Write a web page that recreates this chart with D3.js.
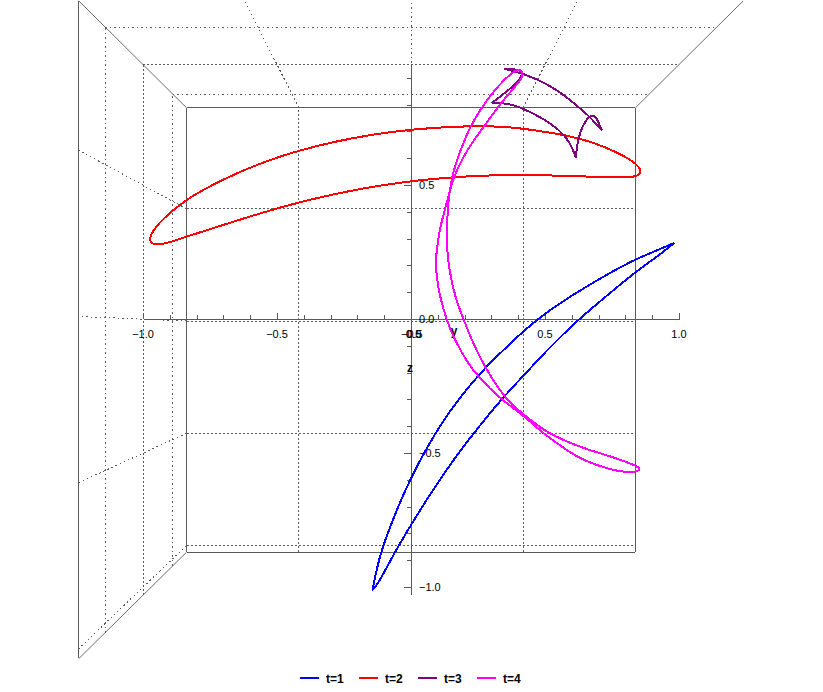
<!DOCTYPE html>
<html><head><meta charset="utf-8">
<script src="https://cdn.jsdelivr.net/npm/d3@7"></script>
<style>html,body{margin:0;background:#fff}svg{display:block}text{font-family:"Liberation Sans",Arial,sans-serif;fill:#000}</style>
</head><body><svg id="c" width="823" height="692"></svg>
<script>
// x, z values of each closed curve, as read on the axis plane
const t1X=[.982,.904,.836,.755,.680,.606,.544,.475,.419,.357,.276,.220,.146,.090,.040,-.004,-.041,-.078,-.106,-.128,-.143,-.122,-.060,.003,.065,.146,.232,.344,.419,.506,.624,.730,.836,.917,.982];
const t1Z=[.284,.250,.222,.179,.136,.091,.051,.001,-.046,-.104,-.183,-.247,-.341,-.428,-.515,-.602,-.683,-.776,-.851,-.931,-1.010,-.987,-.869,-.763,-.664,-.542,-.428,-.291,-.213,-.117,-.002,.086,.175,.231,.284];
const t2X=[-.978,-.958,-.918,-.843,-.762,-.650,-.532,-.426,-.277,-.141,.003,.183,.344,.419,.568,.680,.780,.832,.862,.850,.817,.693,.531,.419,.270,.158,.034,.003,-.141,-.277,-.426,-.588,-.725,-.843,-.918,-.968];
const t2Z=[.300,.337,.381,.443,.490,.545,.592,.627,.664,.689,.708,.720,.719,.710,.689,.660,.617,.586,.555,.534,.528,.530,.536,.537,.536,.529,.518,.514,.495,.468,.434,.387,.343,.306,.279,.277];
const t3X=[.712,.668,.618,.556,.494,.419,.351,.407,.422,.388,.303,.369,.419,.494,.556,.593,.615,.621,.643,.668,.687,.699,.712];
const t3Z=[.704,.754,.797,.847,.884,.916,.933,.931,.916,.872,.807,.804,.785,.748,.704,.660,.604,.667,.729,.760,.760,.735,.704];
const t4X=[.866,.805,.743,.668,.581,.494,.432,.357,.307,.276,.232,.195,.164,.143,.133,.135,.142,.158,.189,.220,.257,.301,.351,.394,.415,.419,.388,.338,.276,.220,.189,.158,.133,.108,.093,.093,.108,.133,.158,.208,.251,.332,.419,.494,.556,.618,.693,.768,.835];
const t4Z=[-.558,-.534,-.512,-.490,-.459,-.415,-.366,-.303,-.229,-.179,-.092,.001,.082,.182,.269,.381,.470,.555,.642,.716,.779,.841,.897,.932,.930,.903,.866,.810,.723,.648,.592,.530,.431,.343,.244,.169,.082,-.005,-.067,-.160,-.216,-.297,-.359,-.428,-.471,-.515,-.546,-.568,-.574];

const seriesNames=["t=1","t=2","t=3","t=4"];
const seriesColors=["#0000ff","#ff0000","#800080","#ff00ff"];
const seriesX=[t1X,t2X,t3X,t4X];
const seriesZ=[t1Z,t2Z,t3Z,t4Z];
// indices of the sharp turning points; curves without any are smooth closed loops
const seriesCusps=[[0,20,34],[],[0,6,10,16,22],[]];

const xRange=[-1,1], yRange=[-.773,.777], zRange=[-1.03,.95];
const xGrid=[-.5,.5], yGrid=[-.5,0,.5], zGrid=[.5,0,-.5,-1];
const xTickLabels=[-1,-.5,.5,1], zTickLabels=[.5,0,-.5,-1];
const yTickLabels=[-.5,0,.5];

const svg=d3.select("#c");
const ink="#5a5a5a";
const cx=411, cy=330.5, backScale=224.5;
// perspective: inverse magnification is linear in depth y
const invMag=d3.scaleLinear().domain([-.5,.5]).range([.943,.734]);
const sx=d3.scaleLinear().domain([-1,1]).range([143,679]);
const sz=d3.scaleLinear().domain([-1,1]).range([587,51]);
function P(x,y,z){const s=backScale/invMag(y);return [cx+x*s,cy-(z+.0422)*s];}

const openGen=d3.line().curve(d3.curveBasis);
const closedGen=d3.line().curve(d3.curveBasisClosed);
const seg=d3.line();
function draw(a,b,dash,w){
  svg.append("path").attr("d",seg([a,b])).attr("fill","none").attr("stroke",ink)
    .attr("stroke-width",w||1).attr("stroke-dasharray",dash||null).attr("shape-rendering","crispEdges");
}
const [yB,yF]=yRange,[x0,x1]=xRange,[zB,zT]=zRange;
const dashed="2,2", dotted="1.5,3";

// back wall grid
xGrid.forEach(x=>draw(P(x,yB,zB),P(x,yB,zT),dashed));
zGrid.forEach(z=>draw(P(x0,yB,z),P(x1,yB,z),dashed));
// ceiling grid
yGrid.forEach((y,i)=>draw(P(x0,y,zT),P(x1,y,zT),i===1?dashed:dotted));
[-.5,0,.5].forEach(x=>draw(P(x,yB,zT),P(x,yF,zT),dotted));
// left wall grid
yGrid.forEach((y,i)=>draw(P(x0,y,zB),P(x0,y,zT),i===1?dashed:dotted));
zGrid.forEach(z=>draw(P(x0,yB,z),P(x0,yF,z),dotted));
// box edges
draw(P(x0,yB,zT),P(x1,yB,zT),null);
draw(P(x0,yB,zB),P(x1,yB,zB),null);
draw(P(x0,yB,zB),P(x0,yB,zT),null);
draw(P(x1,yB,zB),P(x1,yB,zT),null);
draw(P(x0,yF,zB),P(x0,yF,zT),null);
[[x0,zT],[x1,zT],[x0,zB]].forEach(([x,z])=>{
  svg.append("path").attr("d",seg([P(x,yB,z),P(x,yF,z)])).attr("stroke",ink).attr("fill","none").attr("stroke-width",.9);
});

// axes
const minor=d3.range(-10,10).map(d=>d/10);
const minorX=d3.range(-10,11).map(d=>d/10);
const major=[-1,-.5,0,.5,1];
function styleAxis(g){g.selectAll("path,line").attr("stroke",ink).attr("stroke-width",1).attr("shape-rendering","crispEdges");g.selectAll("text").remove();}
const zAxisY=sz(0);
svg.append("g").attr("transform",`translate(${cx},0)`)
  .call(d3.axisLeft(sz).tickValues(minor).tickSize(4).tickSizeOuter(0).tickFormat(""))
  .call(g=>g.select(".domain").attr("d",`M0.5,${sz(zB)}V${sz(zT)}`)).call(styleAxis);
svg.append("g").attr("transform",`translate(${cx},0)`)
  .call(d3.axisLeft(sz).tickValues(major.filter(d=>d<1)).tickSize(7).tickSizeOuter(0).tickFormat(""))
  .call(g=>g.select(".domain").remove()).call(styleAxis);
svg.append("g").attr("transform",`translate(0,${zAxisY})`)
  .call(d3.axisTop(sx).tickValues(minorX).tickSize(4).tickSizeOuter(0).tickFormat("")).call(styleAxis);
svg.append("g").attr("transform",`translate(0,${zAxisY})`)
  .call(d3.axisTop(sx).tickValues(major).tickSize(6).tickSizeOuter(0).tickFormat(""))
  .call(g=>g.select(".domain").remove()).call(styleAxis);

// tick labels
const fmt=d=>(d<0?"\u2212":"")+Math.abs(d).toFixed(1);
svg.selectAll(".xl").data(xTickLabels).join("text").attr("class","xl")
  .attr("x",d=>sx(d)).attr("y",338).attr("text-anchor","middle").attr("font-size",11).text(fmt);
svg.selectAll(".zl").data(zTickLabels).join("text").attr("class","zl")
  .attr("x",419).attr("y",d=>sz(d)+4).attr("font-size",11).text(fmt);
svg.selectAll(".yl").data(yTickLabels).join("text").attr("class","yl")
  .attr("x",d=>d<0?401:406).attr("y",338).attr("font-size",11).text(fmt);
svg.append("text").attr("x",454).attr("y",335).attr("text-anchor","middle").attr("font-size",12).attr("font-weight","bold").text("y");
svg.append("text").attr("x",410).attr("y",372).attr("text-anchor","middle").attr("font-size",12).attr("font-weight","bold").text("z");

// curves
seriesNames.forEach((n,i)=>{
  const pts=seriesX[i].map((x,j)=>[sx(x),sz(seriesZ[i][j])]);
  const cusps=seriesCusps[i];
  let d;
  if(cusps.length){
    // repeated points make the spline pass through each sharp turning point
    const withCusps=pts.flatMap((p,j)=>cusps.includes(j)?[p,p,p]:[p]);
    d=openGen(withCusps);
  } else d=closedGen(pts);
  svg.append("path").attr("d",d).attr("fill","none").attr("stroke",seriesColors[i])
    .attr("stroke-width",2).attr("stroke-linejoin","round").attr("shape-rendering","crispEdges");
});

// legend
const legendX=d3.scalePoint().domain(seriesNames).range([300,477]);
const lg=svg.selectAll(".lg").data(seriesNames).join("g").attr("class","lg")
  .attr("transform",d=>`translate(${legendX(d)},678)`);
lg.append("line").attr("x1",0).attr("x2",19).attr("stroke",(d,i)=>seriesColors[i]).attr("stroke-width",2).attr("shape-rendering","crispEdges");
lg.append("text").attr("x",26).attr("y",4.5).attr("font-size",12).attr("font-weight","bold").text(d=>d);
</script></body></html>
